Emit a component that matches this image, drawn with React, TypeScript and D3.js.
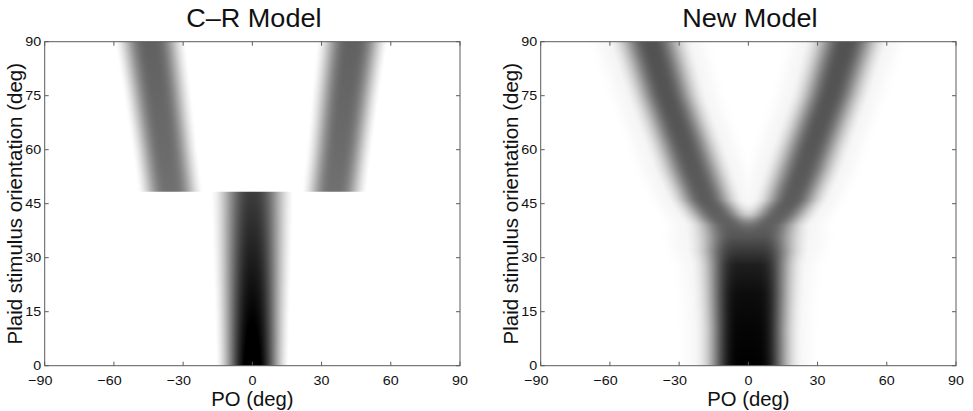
import React, { useEffect, useMemo } from "react";
import * as d3 from "d3";

const WIDTH = 973;
const HEIGHT = 411;

const PO_TICKS = [-90, -60, -30, 0, 30, 60, 90];
const ORI_TICKS = [0, 15, 30, 45, 60, 75, 90];

// C-R model, below the switch: one band at PO 0
const CR_SWITCH = 48.3;
const CR_LOW_ORI = [0, 12, 24, 36, 48.3];
const CR_LOW_HALF = [15.5, 16, 16.6, 17.2, 17.7];
const CR_LOW_PEAK = [1.08, 1.0, 0.92, 0.84, 0.76];

// C-R model, above the switch: two bands
const CR_HIGH_ORI = [48.3, 60, 75, 90];
const CR_HIGH_LEFT = [-35.5, -37.9, -41, -44.3];
const CR_HIGH_RIGHT = [35.5, 37.7, 40.4, 43.4];
const CR_HIGH_HALF = [13.9, 14.0, 14.6, 15.2];
const CR_HIGH_PEAK = [0.56, 0.58, 0.6, 0.62];

// New model: arm offset, arm width, peak darkness
const NEW_ORI = [0, 10, 20, 28, 32, 36, 39, 42, 46, 54, 62, 75, 90];
const NEW_SPLIT = [0, 0, 0, 0.5, 2, 5, 8.5, 13.5, 18.5, 23.5, 28, 35.5, 42.5];
const NEW_WIDTH = [13, 13, 13.5, 14, 15, 14, 12, 11, 10.5, 11, 11, 11, 11.5];
const NEW_PEAK = [1.0, 0.98, 0.95, 0.88, 0.77, 0.66, 0.62, 0.62, 0.64, 0.65, 0.66, 0.67, 0.68];

const FONT = "'Liberation Sans', Arial, Helvetica, sans-serif";
const AXIS = "#5a5a5a";

const PLOT_TOP = 41.7;
const PLOT_BOTTOM = 365.7;

// flat-topped bump that is cut to white at |d| = half
function cutBump(d: number, half: number) {
  const t = 0.08;
  const w = half / Math.pow(Math.log(1 / t), 1 / 3);
  const g = Math.exp(-Math.pow(Math.abs(d) / w, 3));
  return Math.max(0, (g - t) / (1 - t));
}

const lin = (dom: number[], rng: number[]) => d3.scaleLinear().domain(dom).range(rng).clamp(true);

const crLowHalf = lin(CR_LOW_ORI, CR_LOW_HALF);
const crLowPeak = lin(CR_LOW_ORI, CR_LOW_PEAK);
const crLeft = lin(CR_HIGH_ORI, CR_HIGH_LEFT);
const crRight = lin(CR_HIGH_ORI, CR_HIGH_RIGHT);
const crHighHalf = lin(CR_HIGH_ORI, CR_HIGH_HALF);
const crHighPeak = lin(CR_HIGH_ORI, CR_HIGH_PEAK);

function crValue(po: number, ori: number) {
  if (ori < CR_SWITCH) {
    const h = crLowHalf(ori);
    const g = cutBump(po, h);
    // darker, narrower core on top of the flat band
    const core = Math.exp(-Math.pow(po / (h * 0.45), 2));
    return crLowPeak(ori) * g * (0.82 + 0.18 * core);
  }
  const h = crHighHalf(ori);
  return crHighPeak(ori) * Math.max(cutBump(po - crLeft(ori), h), cutBump(po - crRight(ori), h));
}

const newSplit = lin(NEW_ORI, NEW_SPLIT);
const newWidth = lin(NEW_ORI, NEW_WIDTH);
const newPeak = lin(NEW_ORI, NEW_PEAK);

function newValue(po: number, ori: number) {
  const c = newSplit(ori);
  const w = newWidth(ori);
  const g1 = Math.exp(-Math.pow(Math.abs(po - c) / w, 2.5));
  const g2 = Math.exp(-Math.pow(Math.abs(po + c) / w, 2.5));
  const core = newPeak(ori) * (g1 + g2 - g1 * g2);
  const d = Math.min(Math.abs(po - c), Math.abs(po + c));
  const halo = 0.04 * Math.exp(-Math.pow(d / (w * 2.0), 8));
  return Math.max(core, halo);
}

function renderField(
  x: d3.ScaleLinear<number, number>,
  y: d3.ScaleLinear<number, number>,
  value: (po: number, ori: number) => number
) {
  const [x0, x1] = x.range();
  const [yb, yt] = y.range();
  const w = Math.round(x1 - x0);
  const h = Math.round(yb - yt);
  const canvas = document.createElement("canvas");
  canvas.width = w;
  canvas.height = h;
  const ctx = canvas.getContext("2d");
  if (!ctx) return "";
  const img = ctx.createImageData(w, h);
  for (let j = 0; j < h; j++) {
    const ori = y.invert(yt + ((j + 0.5) * (yb - yt)) / h);
    for (let i = 0; i < w; i++) {
      const po = x.invert(x0 + ((i + 0.5) * (x1 - x0)) / w);
      const v = Math.max(0, Math.min(1, value(po, ori)));
      const g = Math.round(255 * (1 - v));
      const k = (j * w + i) * 4;
      img.data[k] = g;
      img.data[k + 1] = g;
      img.data[k + 2] = g;
      img.data[k + 3] = 255;
    }
  }
  ctx.putImageData(img, 0, 0);
  return canvas.toDataURL();
}

function Panel({
  left,
  right,
  title,
  value,
}: {
  left: number;
  right: number;
  title: string;
  value: (po: number, ori: number) => number;
}) {
  const x = d3.scaleLinear().domain([-90, 90]).range([left, right]);
  const y = d3.scaleLinear().domain([0, 90]).range([PLOT_BOTTOM, PLOT_TOP]);
  const href = useMemo(() => renderField(x, y, value), [left, right]);
  const cx = (left + right) / 2;
  const cy = (PLOT_TOP + PLOT_BOTTOM) / 2;
  const tick = 4;
  const sx = 1.06;

  return (
    <g>
      <image
        href={href}
        x={left}
        y={PLOT_TOP}
        width={right - left}
        height={PLOT_BOTTOM - PLOT_TOP}
        preserveAspectRatio="none"
      />
      <rect
        x={left}
        y={PLOT_TOP}
        width={right - left}
        height={PLOT_BOTTOM - PLOT_TOP}
        fill="none"
        stroke={AXIS}
        strokeWidth={1}
      />
      {PO_TICKS.map((t) => (
        <g key={"x" + t}>
          <line x1={x(t)} x2={x(t)} y1={PLOT_BOTTOM} y2={PLOT_BOTTOM - tick} stroke={AXIS} />
          <line x1={x(t)} x2={x(t)} y1={PLOT_TOP} y2={PLOT_TOP + tick} stroke={AXIS} />
          <text
            transform={`translate(${x(t) + (t < 0 ? -4.3 : 0)},385) scale(${sx},1)`}
            textAnchor="middle"
            fontSize={13.5}
            fontFamily={FONT}
            fill="#111"
          >
            {t < 0 ? "\u2212" + Math.abs(t) : String(t)}
          </text>
        </g>
      ))}
      {ORI_TICKS.map((t) => (
        <g key={"y" + t}>
          <line x1={left} x2={left + tick} y1={y(t)} y2={y(t)} stroke={AXIS} />
          <line x1={right} x2={right - tick} y1={y(t)} y2={y(t)} stroke={AXIS} />
          <text
            transform={`translate(${left - 3.5},${y(t) + 4.2}) scale(${sx},1)`}
            textAnchor="end"
            fontSize={13.5}
            fontFamily={FONT}
            fill="#111"
          >
            {String(t)}
          </text>
        </g>
      ))}
      <text
        transform={`translate(${cx + 1.5},27) scale(1.04,1)`}
        textAnchor="middle"
        fontSize={26}
        fontFamily={FONT}
        fill="#111"
      >
        {title}
      </text>
      <text
        transform={`translate(${cx},405.5) scale(1.05,1)`}
        textAnchor="middle"
        fontSize={19.3}
        fontFamily={FONT}
        fill="#111"
      >
        PO (deg)
      </text>
      <text
        transform={`translate(${left - 22.5},${cy}) rotate(-90)`}
        textAnchor="middle"
        fontSize={20.5}
        fontFamily={FONT}
        fill="#111"
      >
        Plaid stimulus orientation (deg)
      </text>
    </g>
  );
}

export default function App() {
  useEffect(() => {
    document.body.style.margin = "0";
  }, []);
  return (
    <svg width={WIDTH} height={HEIGHT} viewBox={`0 0 ${WIDTH} ${HEIGHT}`} style={{ display: "block", background: "#fff" }}>
      <Panel left={44.7} right={460} title={"C\u2013R Model"} value={crValue} />
      <Panel left={540.7} right={956} title="New Model" value={newValue} />
    </svg>
  );
}
